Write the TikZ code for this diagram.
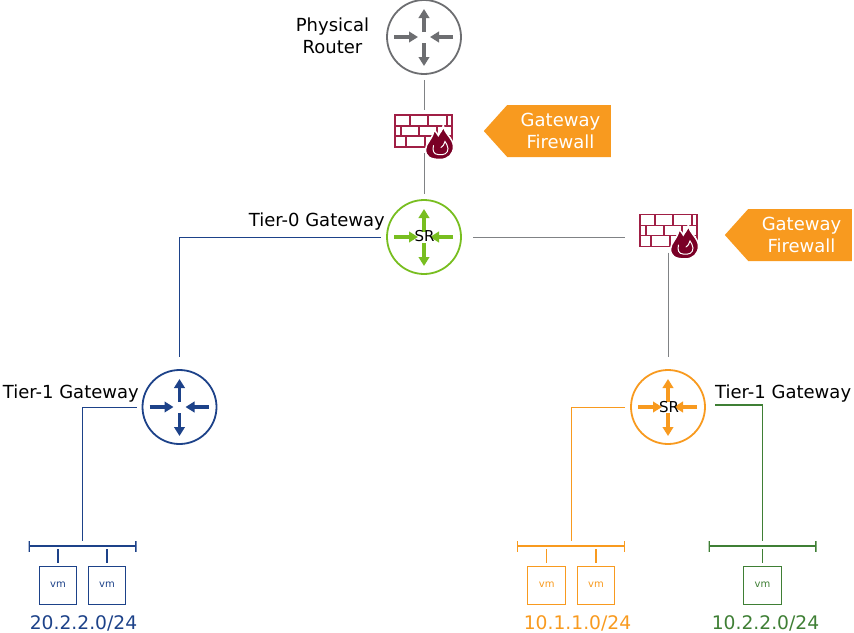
\documentclass[tikz,border=0pt]{standalone}
\usepackage{fontspec}
\setmainfont{DejaVu Sans}
\usetikzlibrary{arrows.meta,shapes.symbols}
\definecolor{routergray}{HTML}{6D6E71}
\definecolor{linegray}{HTML}{808285}
\definecolor{t0green}{HTML}{78BE20}
\definecolor{navyblue}{HTML}{1D4289}
\definecolor{fworange}{HTML}{F89A1F}
\definecolor{subgreen}{HTML}{3F7F35}
\definecolor{brickred}{HTML}{A01F45}
\definecolor{flamered}{HTML}{7A0026}
\tikzset{
  router/.style={circle,draw=#1,line width=1.8pt,fill=white,minimum size=74pt,
    inner sep=0pt,outer sep=6pt,
    path picture={
      \begin{scope}[shift={(path picture bounding box.center)},draw=#1,line width=3.8pt,
                    -{Triangle[width=10.5pt,length=9pt]}]
        \draw (0,-5) -- (0,-28);
        \draw (0,6) -- (0,29);
        \draw (-30,0) -- (-6,0);
        \draw (29,0) -- (6,0);
      \end{scope}
    }},
  srlabel/.style={font=\fontsize{15}{16}\selectfont,inner sep=0pt},
  gwlabel/.style={font=\fontsize{18}{21.5}\selectfont,align=center,inner sep=0pt},
  netlabel/.style={font=\fontsize{18.7}{20}\selectfont,text=#1,inner sep=0pt},
  fwlabel/.style={signal,signal to=west,signal from=nowhere,signal pointer angle=96,
    fill=fworange,text=white,minimum width=127pt,minimum height=52pt,inner sep=0pt,
    font=\fontsize{18}{21.5}\selectfont,align=center},
  fwbox/.style={rectangle,minimum width=58pt,minimum height=43pt,inner sep=0pt},
  vmbox/.style={rectangle,draw=#1,line width=1pt,text=#1,minimum width=37.5pt,minimum height=38pt,
    inner sep=0pt,outer sep=3pt,font=\fontsize{10}{11}\selectfont},
  busbar/.style={rectangle,minimum width=108pt,minimum height=10pt,inner sep=0pt,
    path picture={
      \draw[#1,line width=1.5pt,shift={(path picture bounding box.center)}]
        (-53.5,-6) -- (-53.5,6) (53.5,-6) -- (53.5,6) (-53.5,0) -- (53.5,0);
    }},
  link/.style={draw=#1,line width=1pt},
  stem/.style={draw=#1,line width=1.5pt,shorten <=-2pt}
}
\newcommand\firewall[2]{
  \node [fwbox] (#1) at (#2) {};
  \begin{scope}[shift={(#1.center)}]
    \draw [brickred,line width=1.8pt]
      (-29,-16.5) rectangle (28,15.5)
      (-29,-5.5) -- (28,-5.5) (-29,4.5) -- (28,4.5)
      (-14,-16.5) -- (-14,-5.5) (4.3,-16.5) -- (4.3,-5.5) (22.7,-16.5) -- (22.7,-5.5)
      (-23.3,-5.5) -- (-23.3,4.5) (-5,-5.5) -- (-5,4.5) (13,-5.5) -- (13,4.5)
      (-18,4.5) -- (-18,15.5) (1,4.5) -- (1,15.5);
    \draw [white,line width=1.5pt,fill=flamered]
      (19.3,-6.5) .. controls (20,2) and (29.5,7) .. (29.5,15)
      .. controls (29.5,23) and (24,28) .. (16,28)
      .. controls (6,28) and (1.5,25) .. (1.5,18)
      .. controls (1.5,12) and (9,7) .. (10,-1.5)
      .. controls (12,0) and (13,2) .. (14.3,4)
      .. controls (15.5,1) and (19,-1) .. (19.3,-6.5) -- cycle;
    \draw [white,line width=1pt,line cap=round]
      (9.5,14) .. controls (8,19) and (10,23) .. (14,23)
      (14,23) .. controls (20,24) and (24,22) .. (24,17)
      .. controls (24,14) and (22,12) .. (21,10)
      .. controls (20,13) and (19,15) .. (17,16);
  \end{scope}
}

\begin{document}
\begin{tikzpicture}[x=1pt,y=-1pt]
    \useasboundingbox (0,0) rectangle (854,632);

    % routers
    \node [router=routergray] (phys) at (424,37) {};
    \node [router=t0green] (tier0) at (424,237) {};
    \node [router=navyblue] (tier1a) at (179.5,407) {};
    \node [router=fworange] (tier1b) at (668,407) {};
    \node [srlabel] (sra) at (424.5,236.5) {SR};
    \node [srlabel] (srb) at (669,407) {SR};

    % firewalls
    \firewall{fwa}{424,131.5}
    \firewall{fwb}{669,231}
    \node [fwlabel] (fwlabela) at (559,131) {\hspace*{3pt}Gateway\\\hspace*{3pt}Firewall};
    \node [fwlabel] (fwlabelb) at (800,235) {\hspace*{3pt}Gateway\\\hspace*{3pt}Firewall};

    % labels
    \node [gwlabel] (physlabel) at (332.5,36) {Physical\\Router};
    \node [gwlabel,anchor=east] (tier0label) at (385,222) {Tier-0 Gateway};
    \node [gwlabel,anchor=east] (tier1alabel) at (139,394) {Tier-1 Gateway};
    \node [gwlabel,anchor=west] (tier1blabel) at (715,394) {Tier-1 Gateway};

    % segments
    \node [busbar=navyblue] (busa) at (82.5,546) {};
    \node [busbar=fworange] (busb) at (571,546) {};
    \node [busbar=subgreen] (busc) at (762.5,546) {};

    \node [vmbox=navyblue] (vma) at (58,585) {vm};
    \node [vmbox=navyblue] (vmb) at (107,585) {vm};
    \node [vmbox=fworange] (vmc) at (546.7,585) {vm};
    \node [vmbox=fworange] (vmd) at (596,585) {vm};
    \node [vmbox=subgreen] (vme) at (762.5,585) {vm};

    \node [netlabel=navyblue] (neta) at (83.5,623) {20.2.2.0/24};
    \node [netlabel=fworange] (netb) at (577.5,623) {10.1.1.0/24};
    \node [netlabel=subgreen] (netc) at (765.5,623) {10.2.2.0/24};

    % connectors
    \draw [link=linegray] (phys.south) -- (fwa.north);
    \draw [link=linegray] (fwa.south) -- (tier0.north);
    \draw [link=linegray,shorten <=6pt,shorten >=15pt] (tier0.east) -- (tier0.east -| fwb.west);
    \draw [link=linegray,shorten >=7pt] (fwb.south -| tier1b.north) -- (tier1b.north);
    \draw [link=navyblue,shorten >=7pt] (tier0.west) -| (tier1a.north);
    \draw [link=navyblue] (tier1a.west) -| (busa.north);
    \draw [link=fworange] (tier1b.west) -| (busb.north);
    \draw [link=subgreen,line width=1.5pt,shorten <=4pt] ([yshift=2pt]tier1b.east) -| (busc.north);

    \draw [stem=navyblue] (busa.south -| vma.north) -- (vma.north);
    \draw [stem=navyblue] (busa.south -| vmb.north) -- (vmb.north);
    \draw [stem=fworange] (busb.south -| vmc.north) -- (vmc.north);
    \draw [stem=fworange] (busb.south -| vmd.north) -- (vmd.north);
    \draw [stem=subgreen] (busc.south -| vme.north) -- (vme.north);
\end{tikzpicture}
\end{document}
